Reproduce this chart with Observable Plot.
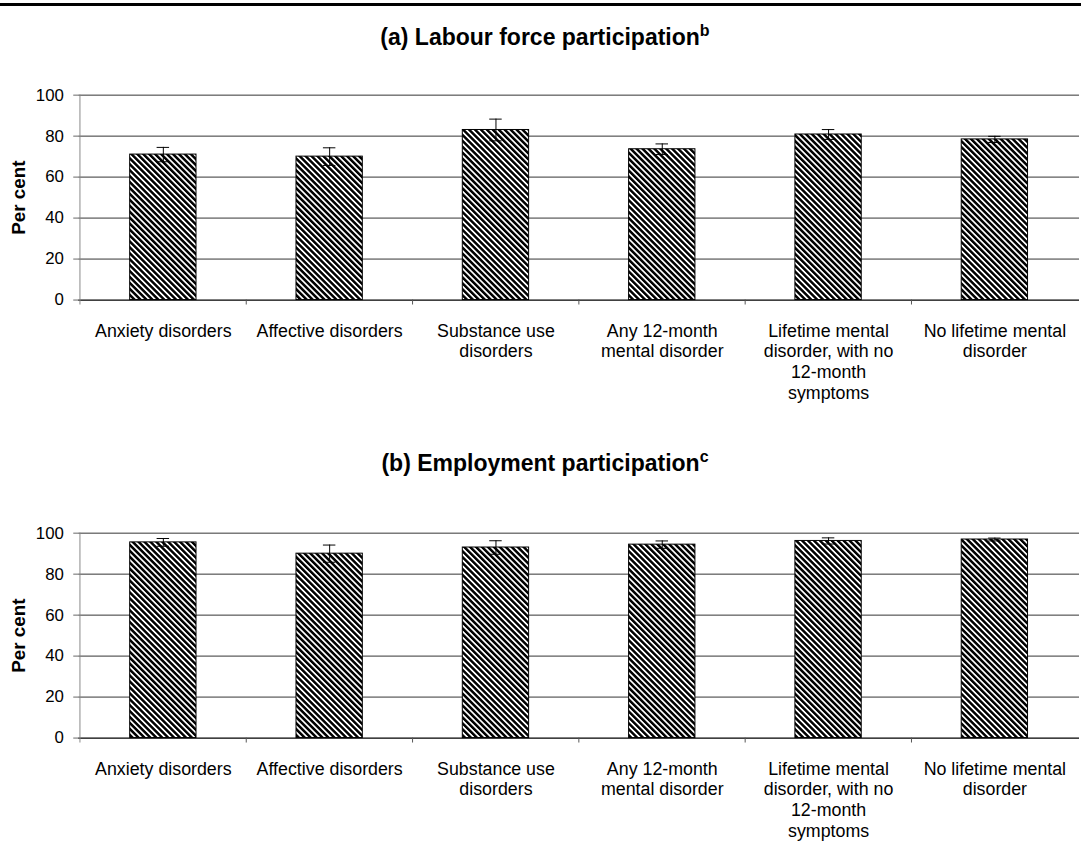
<!DOCTYPE html>
<html><head><meta charset="utf-8">
<script src="https://cdn.jsdelivr.net/npm/d3@7"></script>
<script src="https://cdn.jsdelivr.net/npm/@observablehq/plot@0.6"></script>
<style>
html,body{margin:0;padding:0;background:#fff;overflow:hidden;}
#wrap{position:relative;width:1081px;height:851px;overflow:hidden;font-family:Arial,"Liberation Sans",sans-serif;color:#000;}
.toprule{position:absolute;left:0;top:3px;width:1081px;height:3px;background:#000;}
.title{position:absolute;left:0;width:1090px;text-align:center;font-weight:bold;font-size:23px;line-height:26px;white-space:nowrap;}
.title .sup{font-size:16px;position:relative;top:-9px;}
.panel{position:absolute;left:0;}
</style></head>
<body>
<div id="wrap">
  <div class="toprule"></div>
  <div class="title" style="top:24px">(a) Labour force participation<span class="sup">b</span></div>
  <div class="title" style="top:450px">(b) Employment participation<span class="sup">c</span></div>
  <div class="panel" id="p1" style="top:60px"></div>
  <div class="panel" id="p2" style="top:500px"></div>
</div>
<script>
const categories = ["Anxiety disorders","Affective disorders","Substance use disorders","Any 12-month mental disorder","Lifetime mental disorder, with no 12-month symptoms","No lifetime mental disorder"];
const categoryLabels = ["Anxiety disorders","Affective disorders","Substance use\ndisorders","Any 12-month\nmental disorder","Lifetime mental\ndisorder, with no\n12-month\nsymptoms","No lifetime mental\ndisorder"];
const labourValues = [71.0, 70.0, 83.0, 73.6, 80.8, 78.4];
const labourErrors = [3.5, 4.3, 5.3, 2.6, 2.4, 1.5];
const employValues = [95.5, 90.0, 93.0, 94.4, 96.2, 96.9];
const employErrors = [1.9, 4.2, 3.3, 1.8, 1.5, 0.7];
const yTicks = [0, 20, 40, 60, 80, 100];

function panel(values, errors, patId, marginTop, marginBottom) {
  const data = categories.map((c, i) => ({cat: c, value: values[i], lo: values[i] - errors[i], hi: values[i] + errors[i]}));
  const width = 1092, marginLeft = 79, marginRight = 2, innerH = 207;
  const height = marginTop + innerH + marginBottom;
  const step = (width - marginLeft - marginRight) / categories.length;
  const bandwidth = step * 0.4;
  const capInset = (bandwidth - 13) / 2;
  const svg = Plot.plot({
    width, height, marginLeft, marginRight, marginTop, marginBottom,
    style: {fontFamily: "Arial, 'Liberation Sans', sans-serif", fontSize: "16px", background: "#fff", color: "#000", overflow: "visible"},
    x: {domain: categories, paddingInner: 0.6, paddingOuter: 0.3, label: null, axis: null},
    y: {domain: [0, 100], label: null, axis: null},
    marks: [
      Plot.gridY(yTicks.filter(d => d > 0), {stroke: "#333", strokeOpacity: 1}),
      Plot.barY(data, {x: "cat", y: "value", fill: `url(#${patId})`, stroke: "#000", strokeWidth: 1}),
      Plot.ruleX(data, {x: "cat", y1: "lo", y2: "hi", stroke: "#000", strokeWidth: 1}),
      Plot.tickY(data, {x: "cat", y: "lo", stroke: "#000", insetLeft: capInset, insetRight: capInset}),
      Plot.tickY(data, {x: "cat", y: "hi", stroke: "#000", insetLeft: capInset, insetRight: capInset}),
      Plot.ruleY([0], {stroke: "#000", strokeWidth: 1.3}),
      Plot.ruleX([categories[0]], {x: d => d, dx: -step / 2, insetBottom: -5, stroke: "#888"}),
      Plot.ruleX(categories.slice(1), {x: d => d, dx: -step / 2, insetTop: innerH, insetBottom: -5, stroke: "#555"}),
      Plot.axisY({ticks: yTicks, tickSize: 5, tickPadding: 10, fontSize: 17, stroke: "#666", label: null}),
      Plot.axisX({tickSize: 0, tickPadding: 22, fontSize: 18, lineHeight: 1.17, tickFormat: (d) => categoryLabels[categories.indexOf(d)], label: null}),
      Plot.text(["Per cent"], {text: d => d, frameAnchor: "left", textAnchor: "middle", dx: -60, rotate: -90, fontWeight: "bold", fontSize: 19})
    ]
  });
  const defs = d3.select(svg).insert("defs", ":first-child");
  const pat = defs.append("pattern").attr("id", patId).attr("patternUnits", "userSpaceOnUse")
    .attr("width", 4.24).attr("height", 4.24).attr("patternTransform", "rotate(-45)");
  pat.append("rect").attr("width", 4.24).attr("height", 4.24).attr("fill", "#fff");
  pat.append("rect").attr("width", 2.5).attr("height", 4.24).attr("fill", "#000");
  return svg;
}
document.getElementById("p1").appendChild(panel(labourValues, labourErrors, "hatchA", 35, 110));
document.getElementById("p2").appendChild(panel(employValues, employErrors, "hatchB", 33, 110));
</script>
</body></html>
